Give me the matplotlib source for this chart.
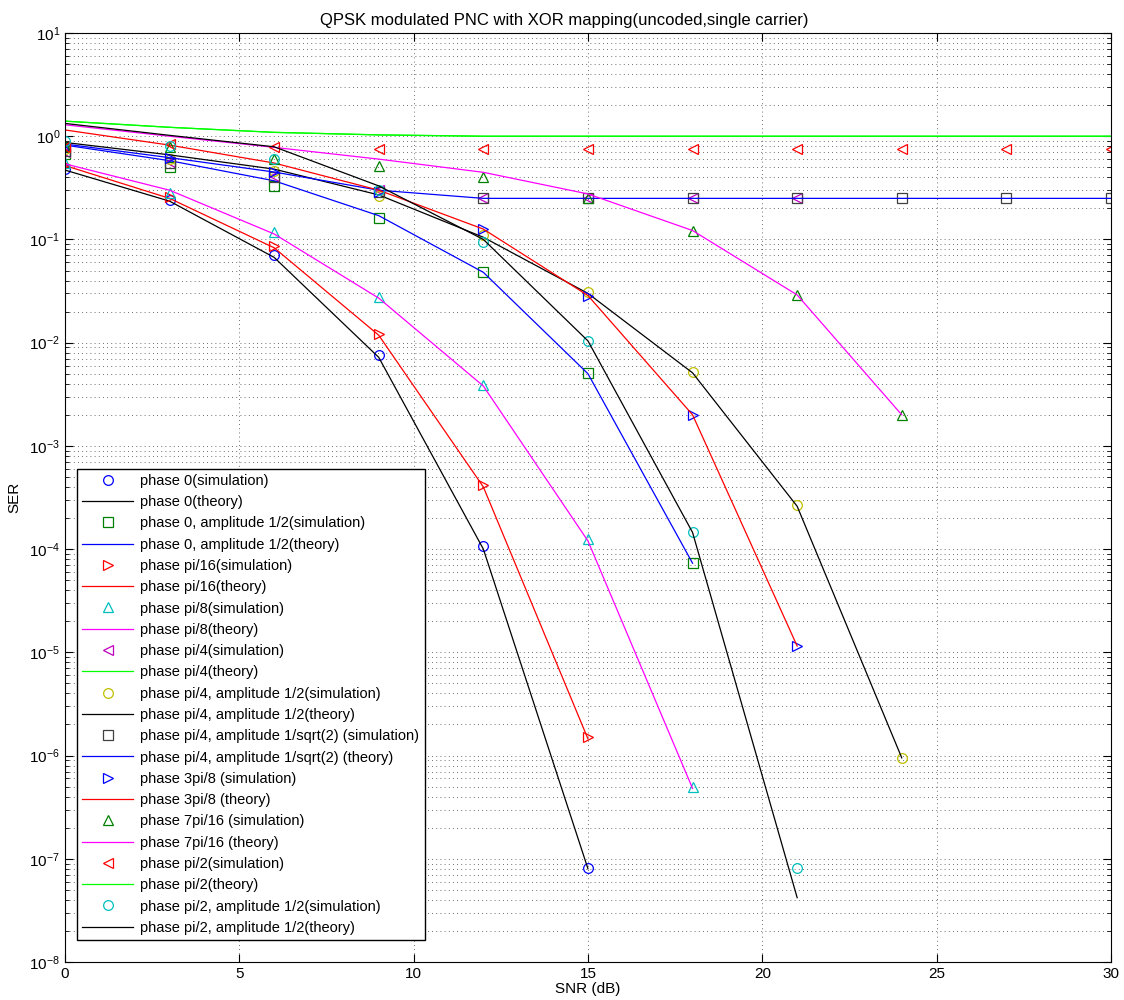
import numpy as np
import matplotlib
matplotlib.use("Agg")
import matplotlib.pyplot as plt
from matplotlib.ticker import LogLocator, NullFormatter

plt.rcParams["font.family"] = ["Liberation Sans", "DejaVu Sans"]
plt.rcParams["mathtext.fontset"] = "custom"
plt.rcParams["mathtext.rm"] = "Liberation Sans"
plt.rcParams["mathtext.it"] = "Liberation Sans"

snr = [0, 3, 6, 9, 12, 15, 18, 21, 24, 27, 30]

# phase 0
ph0_sim = [0.48, 0.24, 0.071, 0.0076, 1.08e-4, 8.1e-8]
ph0_th = [0.47, 0.235, 0.067, 0.0072, 1.0e-4, 8.0e-8]
# phase 0, amplitude 1/2
ph0_half_sim = [0.68, 0.50, 0.327, 0.162, 0.048, 5.1e-3, 7.3e-5]
ph0_half_th = [0.82, 0.58, 0.37, 0.17, 0.048, 5.0e-3, 7.3e-5]
# phase pi/16
pi16_sim = [0.53, 0.256, 0.087, 0.0122, 4.2e-4, 1.5e-6]
pi16_th = [0.52, 0.25, 0.083, 0.0118, 4.0e-4, 1.45e-6]
# phase pi/8
pi8_sim = [0.55, 0.28, 0.117, 0.0276, 3.9e-3, 1.25e-4, 5.0e-7]
pi8_th = [0.54, 0.30, 0.113, 0.027, 3.8e-3, 1.2e-4, 4.8e-7]
# phase pi/4
pi4_sim = [0.70, 0.56, 0.41, 0.30, 0.25, 0.25, 0.25, 0.25]
pi4_th = [1.40, 1.22, 1.09, 1.03, 1.0, 1.0, 1.0, 1.0, 1.0, 1.0, 1.0]
# phase pi/4, amplitude 1/2
pi4_half_sim = [0.75, 0.60, 0.46, 0.266, 0.11, 0.031, 5.2e-3, 2.65e-4, 9.5e-7]
pi4_half_th = [0.87, 0.66, 0.48, 0.27, 0.105, 0.030, 5.1e-3, 2.6e-4, 9.5e-7]
# phase pi/4, amplitude 1/sqrt(2)
pi4_sq_sim = [0.72, 0.55, 0.40, 0.29, 0.25, 0.25, 0.25, 0.25, 0.25, 0.25, 0.25]
pi4_sq_th = [0.84, 0.62, 0.45, 0.30, 0.25, 0.25, 0.25, 0.25, 0.25, 0.25, 0.25]
# phase 3pi/8
p3pi8_sim = [0.75, 0.62, 0.45, 0.29, 0.126, 0.0286, 2.0e-3, 1.15e-5]
p3pi8_th = [1.15, 0.82, 0.55, 0.30, 0.126, 0.0286, 2.0e-3, 1.15e-5]
# phase 7pi/16
p7pi16_sim = [0.80, 0.78, 0.60, 0.52, 0.40, 0.25, 0.122, 0.029, 2.0e-3]
p7pi16_th = [1.29, 1.0, 0.78, 0.60, 0.447, 0.276, 0.122, 0.029, 2.0e-3]
# phase pi/2
pi2_sim = [0.78, 0.84, 0.78, 0.76, 0.76, 0.76, 0.76, 0.76, 0.76, 0.76, 0.76]
pi2_th = [1.40, 1.22, 1.09, 1.03, 1.0, 1.0, 1.0, 1.0, 1.0, 1.0, 1.0]
# phase pi/2, amplitude 1/2
pi2_half_sim = [0.90, 0.80, 0.60, 0.30, 0.095, 0.0104, 1.48e-4, 8.1e-8]
pi2_half_th = [1.33, 1.02, 0.79, 0.33, 0.10, 0.0104, 1.45e-4, 4.2e-8]

# (data, marker or "-", color, label)
series = [
    (ph0_sim, "o", "b", "phase 0(simulation)"),
    (ph0_th, "-", "k", "phase 0(theory)"),
    (ph0_half_sim, "s", (0, 0.5, 0), "phase 0, amplitude 1/2(simulation)"),
    (ph0_half_th, "-", "b", "phase 0, amplitude 1/2(theory)"),
    (pi16_sim, ">", "r", "phase pi/16(simulation)"),
    (pi16_th, "-", "r", "phase pi/16(theory)"),
    (pi8_sim, "^", (0, 0.75, 0.75), "phase pi/8(simulation)"),
    (pi8_th, "-", (1, 0, 1), "phase pi/8(theory)"),
    (pi4_sim, "<", (0.75, 0, 0.75), "phase pi/4(simulation)"),
    (pi4_th, "-", (0, 1, 0), "phase pi/4(theory)"),
    (pi4_half_sim, "o", (0.75, 0.75, 0), "phase pi/4, amplitude 1/2(simulation)"),
    (pi4_half_th, "-", "k", "phase pi/4, amplitude 1/2(theory)"),
    (pi4_sq_sim, "s", (0.25, 0.25, 0.25), "phase pi/4, amplitude 1/sqrt(2) (simulation)"),
    (pi4_sq_th, "-", "b", "phase pi/4, amplitude 1/sqrt(2) (theory)"),
    (p3pi8_sim, ">", "b", "phase 3pi/8 (simulation)"),
    (p3pi8_th, "-", "r", "phase 3pi/8 (theory)"),
    (p7pi16_sim, "^", (0, 0.5, 0), "phase 7pi/16 (simulation)"),
    (p7pi16_th, "-", (1, 0, 1), "phase 7pi/16 (theory)"),
    (pi2_sim, "<", "r", "phase pi/2(simulation)"),
    (pi2_th, "-", (0, 1, 0), "phase pi/2(theory)"),
    (pi2_half_sim, "o", (0, 0.75, 0.75), "phase pi/2, amplitude 1/2(simulation)"),
    (pi2_half_th, "-", "k", "phase pi/2, amplitude 1/2(theory)"),
]

fig = plt.figure(figsize=(11.24, 10), dpi=100)
ax = fig.add_axes([0.0578, 0.038, 0.9306, 0.929])

for vals, kind, color, label in series:
    x = snr[:len(vals)]
    if kind == "-":
        ax.semilogy(x, vals, "-", color=color, linewidth=0.9, label=label)
    else:
        ax.semilogy(x, vals, linestyle="none", marker=kind, markersize=7,
                    markerfacecolor="none", markeredgecolor=color,
                    markeredgewidth=0.9, label=label)

ax.set_xlim(0, 30)
ax.set_ylim(1e-8, 1e1)
ax.set_xticks([0, 5, 10, 15, 20, 25, 30])
ax.yaxis.set_major_locator(LogLocator(base=10, numticks=30))
ax.yaxis.set_minor_locator(LogLocator(base=10, subs=np.arange(2, 10), numticks=300))
ax.yaxis.set_minor_formatter(NullFormatter())
ax.tick_params(which="both", direction="in", top=True, right=True, labelsize=11)
ax.tick_params(which="major", length=6)
ax.tick_params(which="minor", length=3)
grid_style = dict(color=(0.25, 0.25, 0.25), linestyle=(0, (1, 4)), linewidth=0.6)
ax.grid(True, which="major", **grid_style)
ax.grid(True, which="minor", axis="y", **grid_style)

ax.set_xlabel("SNR (dB)", fontsize=11, labelpad=1)
ax.set_ylabel("SER", fontsize=11, labelpad=6)
ax.set_title("QPSK modulated PNC with XOR mapping(uncoded,single carrier)",
             fontsize=12, pad=6, x=0.477)

leg = ax.legend(loc="lower left", bbox_to_anchor=(0.0115, 0.0237), borderaxespad=0,
                fontsize=10.5, fancybox=False, framealpha=1, edgecolor="k",
                handlelength=3.5, labelspacing=0.5, borderpad=0.35, handletextpad=0.5)
leg.get_frame().set_linewidth(1.0)

fig.savefig("out.png", dpi=100)
